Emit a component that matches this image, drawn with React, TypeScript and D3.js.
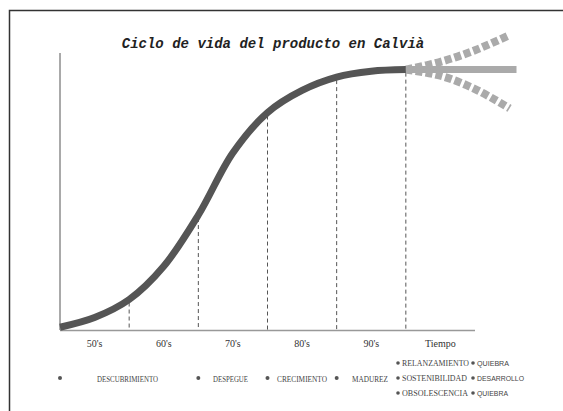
import * as d3 from "d3";

const W = 563;
const H = 411;

// product life cycle curve (years vs. relative level 0-100)
const years = [1945, 1950, 1955, 1960, 1965, 1970, 1975, 1980, 1985, 1990, 1995];
const level = [1, 4.5, 11, 23, 41.5, 64, 78.5, 86.5, 91.3, 93.4, 94];

// scenarios after the 90's
const projYears = [1995, 2000, 2005, 2010];
const projUp = [94, 96.8, 101, 106.5];
const projDown = [94, 91.8, 87, 80];
const flatYears = [1995, 2011];
const flatLevel = [94, 94];

const dividers = [1955, 1965, 1975, 1985, 1995];
const decadeLabels = ["50's", "60's", "70's", "80's", "90's", "Tiempo"];

const stages = ["DESCUBRIMIENTO", "DESPEGUE", "CRECIMIENTO", "MADUREZ"];
const futures = ["RELANZAMIENTO", "SOSTENIBILIDAD", "OBSOLESCENCIA"];
const outcomes = ["QUIEBRA", "DESARROLLO", "QUIEBRA"];

const x = d3.scaleLinear().domain([1945, 2005]).range([60, 475]);
const y = d3.scaleLinear().domain([0, 100]).range([330, 53]);

type P = [number, number];
const zip = (a: number[], b: number[]): P[] => a.map((v, i) => [v, b[i]]);

const line = d3
  .line<P>()
  .x((d) => x(d[0]))
  .y((d) => y(d[1]))
  .curve(d3.curveCatmullRom.alpha(0.5));

const serif = "'Liberation Serif', 'DejaVu Serif', serif";
const sans = "'Liberation Sans', Arial, sans-serif";

export default function App() {
  const mainPts = zip(years, level);
  const levelAt = (yr: number) => level[years.indexOf(yr)];

  // legend layout
  const stageDotX = [1945, 1965, 1975, 1985].map((v) => x(v));
  const stageTextX = [97, 213, 277, 352];
  const stageLen = [61, 35, 50, 36];
  const futureLen = [67, 65, 66];
  const outcomeLen = [32, 47, 31];
  const rowY = [366, 381, 396];

  return (
    <div style={{ position: "fixed", left: 0, top: 0 }}>
      <svg width={W} height={H} style={{ display: "block", background: "#fff" }}>
        {/* frame */}
        <path d={`M9.5,${H} V10.5 H${W}`} fill="none" stroke="#333" strokeWidth={1.5} />

        <text
          x={273}
          y={48}
          textAnchor="middle"
          fontFamily="'Liberation Mono', 'DejaVu Sans Mono', monospace"
          fontStyle="italic"
          fontWeight="bold"
          fontSize={14}
          fill="#222"
        >
          Ciclo de vida del producto en Calvià
        </text>

        {/* axes */}
        <line x1={x(1945)} x2={x(1945)} y1={y(100)} y2={y(0)} stroke="#555" strokeWidth={1} />
        <line x1={x(1945)} x2={x(2005)} y1={y(0) + 0.5} y2={y(0) + 0.5} stroke="#999" strokeWidth={1.5} />

        {dividers.map((yr) => (
          <line
            key={yr}
            x1={x(yr)}
            x2={x(yr)}
            y1={y(levelAt(yr)) + 3}
            y2={y(0)}
            stroke="#555"
            strokeWidth={1}
            strokeDasharray="4,3"
          />
        ))}

        {decadeLabels.map((t, i) => (
          <text
            key={t}
            x={x(1950 + i * 10)}
            y={347}
            textAnchor="middle"
            fontFamily={serif}
            fontSize={10}
            fill="#333"
          >
            {t}
          </text>
        ))}

        {/* scenarios */}
        <path d={line(zip(flatYears, flatLevel)) ?? ""} fill="none" stroke="#aaa" strokeWidth={7} />
        <path
          d={line(zip(projYears, projUp)) ?? ""}
          fill="none"
          stroke="#aaa"
          strokeWidth={8}
          strokeDasharray="7,3"
        />
        <path
          d={line(zip(projYears, projDown)) ?? ""}
          fill="none"
          stroke="#aaa"
          strokeWidth={8}
          strokeDasharray="7,3"
        />

        {/* life cycle */}
        <path d={line(mainPts) ?? ""} fill="none" stroke="#555" strokeWidth={7} />

        {/* legend row */}
        {stages.map((s, i) => (
          <g key={s}>
            <circle cx={stageDotX[i]} cy={378} r={2} fill="#555" />
            <text
              x={stageTextX[i]}
              y={381.5}
              textLength={stageLen[i]}
              lengthAdjust="spacingAndGlyphs"
              fontFamily={serif}
              fontSize={9}
              fill="#444"
            >
              {s}
            </text>
          </g>
        ))}

        {/* scenario legend */}
        {futures.map((f, i) => (
          <g key={f}>
            <circle cx={398} cy={rowY[i] - 3} r={1.8} fill="#555" />
            <text
              x={402}
              y={rowY[i]}
              textLength={futureLen[i]}
              lengthAdjust="spacingAndGlyphs"
              fontFamily={serif}
              fontSize={9}
              fill="#444"
            >
              {f}
            </text>
            <circle cx={473} cy={rowY[i] - 3} r={1.8} fill="#555" />
            <text
              x={477}
              y={rowY[i]}
              textLength={outcomeLen[i]}
              lengthAdjust="spacingAndGlyphs"
              fontFamily={sans}
              fontSize={7.5}
              fill="#444"
            >
              {outcomes[i]}
            </text>
          </g>
        ))}
      </svg>
    </div>
  );
}
